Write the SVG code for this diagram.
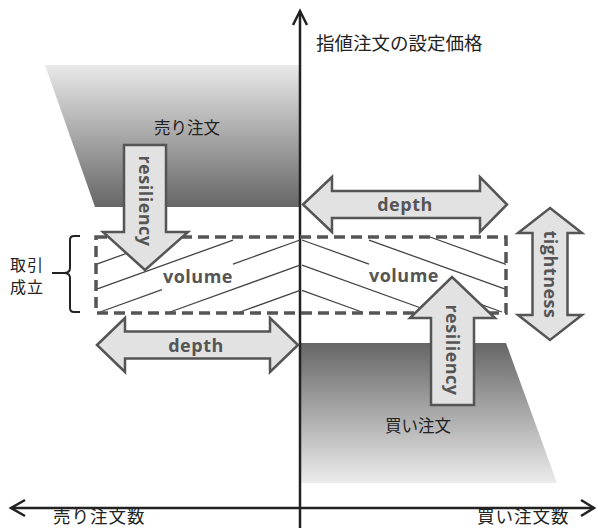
<svg xmlns="http://www.w3.org/2000/svg" width="597" height="528" viewBox="0 0 597 528">
<style>
.jp{font-family:"Noto Sans CJK JP","Noto Sans",sans-serif;fill:#222}
.lbl{font-family:"Open Sans","DejaVu Sans",sans-serif;font-weight:bold;font-size:18px;fill:#555;text-anchor:middle;letter-spacing:0.5px}
.arr{fill:#e2e2e2;stroke:#555;stroke-width:2.5;stroke-linejoin:miter}
.hatch{stroke:#444;stroke-width:1.3;fill:none}
.axis{stroke:#222;stroke-width:2.5;fill:none}
</style>
<defs>
<linearGradient id="gSell" x1="0" y1="65" x2="0" y2="207" gradientUnits="userSpaceOnUse">
<stop offset="0" stop-color="#e9e9e9"/><stop offset="1" stop-color="#666"/>
</linearGradient>
<linearGradient id="gBuy" x1="0" y1="343" x2="0" y2="483" gradientUnits="userSpaceOnUse">
<stop offset="0" stop-color="#666"/><stop offset="1" stop-color="#ececec"/>
</linearGradient>
</defs>

<g id="sell-orders">
<polygon points="45,65 300,65 300,207 95,207" fill="url(#gSell)"/>
<text class="jp" x="187" y="134" font-size="16.5" text-anchor="middle">売り注文</text>
</g>
<g id="buy-orders">
<polygon points="300,343 506,343 557,483 300,483" fill="url(#gBuy)"/>
<text class="jp" x="418" y="432" font-size="16.5" text-anchor="middle">買い注文</text>
</g>

<g id="axes">
<line class="axis" x1="300" y1="11" x2="300" y2="528"/>
<polyline class="axis" points="293,25 300,11 307,25"/>
<line class="axis" x1="11" y1="508" x2="594" y2="508"/>
<polyline class="axis" points="25,500 11,508 25,516"/>
<polyline class="axis" points="581,500 594,508 581,516"/>
<text class="jp" x="316" y="50" font-size="18.5">指値注文の設定価格</text>
<text class="jp" x="53" y="523" font-size="17.5" letter-spacing="1">売り注文数</text>
<text class="jp" x="477" y="523" font-size="17.5" letter-spacing="1">買い注文数</text>
</g>

<g id="trade-zone">
<g class="hatch">
<line x1="96" y1="264.4" x2="172" y2="237"/>
<line x1="96" y1="289.4" x2="233" y2="240.1"/>
<line x1="100" y1="312" x2="162" y2="289.7"/>
<line x1="233" y1="264.1" x2="300" y2="240"/>
<line x1="170" y1="312" x2="300" y2="265.2"/>
<line x1="240" y1="312" x2="300" y2="290.4"/>
<line x1="506" y1="264.4" x2="430" y2="237"/>
<line x1="506" y1="289.4" x2="369" y2="240.1"/>
<line x1="502" y1="312" x2="440" y2="289.7"/>
<line x1="369" y1="264.1" x2="302" y2="240"/>
<line x1="432" y1="312" x2="302" y2="265.2"/>
<line x1="362" y1="312" x2="302" y2="290.4"/>
</g>
<rect x="96" y="237" width="410" height="76" fill="none" stroke="#555" stroke-width="3.5" stroke-dasharray="11,6"/>
<text class="lbl" x="198" y="283">volume</text>
<text class="lbl" x="404" y="282">volume</text>
</g>

<g id="brace">
<path d="M80,236 H74 Q70,236 70,240 V268 Q70,273 64,273 H52 M64,273 Q70,273 70,278 V308 Q70,312 74,312 H80" fill="none" stroke="#222" stroke-width="2"/>
<text class="jp" x="10" y="271" font-size="16" letter-spacing="1">取引</text>
<text class="jp" x="10" y="293" font-size="16" letter-spacing="1">成立</text>
</g>

<g id="connectors">
<g id="resiliency-sell">
<path class="arr" d="M124,145 H166 V232 H188 L145,270 L103,232 H124 Z"/>
<text class="lbl" transform="translate(145,201) rotate(90)" dy="6">resiliency</text>
</g>
<g id="resiliency-buy">
<path class="arr" d="M431,405 V318 H410 L452,277 L495,318 H474 V405 Z"/>
<text class="lbl" transform="translate(452,350) rotate(90)" dy="6">resiliency</text>
</g>
<g id="depth-top">
<path class="arr" d="M303,204.5 L332,177 V191 H480 V177 L507,204.5 L480,232 V218 H332 V232 Z"/>
<text class="lbl" x="405" y="211">depth</text>
</g>
<g id="depth-bottom">
<path class="arr" d="M97,345 L125,318 V331.5 H270 V318 L298,345 L270,372 V358.5 H125 V372 Z"/>
<text class="lbl" x="196" y="352">depth</text>
</g>
<g id="tightness">
<path class="arr" d="M550,208 L582,233 H567.5 V315 H582 L550,340 L518,315 H532.5 V233 H518 Z"/>
<text class="lbl" transform="translate(550,274.5) rotate(90)" dy="6">tightness</text>
</g>
</g>
</svg>
